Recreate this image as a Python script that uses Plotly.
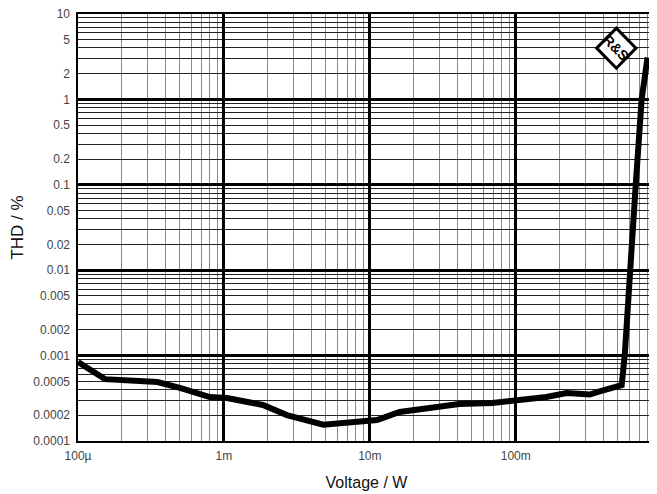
import numpy as np
import plotly.graph_objects as go

# Data
voltage = [1.0e-4, 1.53e-4, 3.5e-4, 5.0e-4, 8.0e-4, 1.05e-3, 1.85e-3, 2.7e-3, 4.8e-3, 6.9e-3,
           1.0e-2, 1.12e-2, 1.6e-2, 2.1e-2, 3.0e-2, 4.1e-2, 6.9e-2, 0.119, 0.162, 0.223,
           0.321, 0.376, 0.515, 0.532, 0.558, 0.604, 0.664, 0.729, 0.80]
thd = [0.00084, 0.00053, 0.00049, 0.00042, 0.000327, 0.000318, 0.000264, 0.000201, 0.000155, 0.000166,
       0.000176, 0.000176, 0.000219, 0.000231, 0.00025, 0.000271, 0.000278, 0.000302, 0.000327, 0.000365,
       0.00035, 0.00038, 0.00043, 0.00045, 0.001, 0.01, 0.1, 1.0, 3.1]

x_tick_vals = [1e-4, 1e-3, 1e-2, 1e-1]
x_tick_text = ["100µ", "1m", "10m", "100m"]
y_tick_vals = [10, 5, 2, 1, 0.5, 0.2, 0.1, 0.05, 0.02, 0.01, 0.005, 0.002, 0.001, 0.0005, 0.0002, 0.0001]
y_tick_text = ["10", "5", "2", "1", "0.5", "0.2", "0.1", "0.05", "0.02", "0.01", "0.005", "0.002",
               "0.001", "0.0005", "0.0002", "0.0001"]
y_decades = [1e-4, 1e-3, 1e-2, 1e-1, 1, 10]

x_minor = [k * 10.0 ** d for d in range(-4, 0) for k in range(2, 10)]
y_minor = [k * 10.0 ** d for d in range(-4, 1) for k in range(2, 10)]

FONT = "Liberation Sans"

fig = go.Figure()
# invisible trace so the grid axis (y) is drawn
fig.add_trace(go.Scatter(x=voltage, y=thd, xaxis="x", yaxis="y", mode="lines",
                         line=dict(color="rgba(0,0,0,0)", width=1), showlegend=False, hoverinfo="skip"))
fig.add_trace(go.Scatter(x=voltage, y=thd, xaxis="x", yaxis="y2", mode="lines",
                         line=dict(color="black", width=6), showlegend=False, hoverinfo="skip"))

fig.update_layout(
    width=657, height=494,
    margin=dict(l=70, r=10, t=6, b=61),
    paper_bgcolor="white", plot_bgcolor="white",
    font=dict(family=FONT, size=12, color="#222"),
    xaxis=dict(type="log", range=[-4, np.log10(0.9)], tickvals=x_tick_vals, ticktext=x_tick_text,
               showgrid=True, gridcolor="black", gridwidth=3, zeroline=False, automargin=False,
               showline=True, linecolor="black", linewidth=2, mirror=True, ticks="",
               ticklabelstandoff=3, ticklabeloverflow="allow",
               minor=dict(tickvals=x_minor, showgrid=True, gridcolor="#8a8a8a", gridwidth=1, ticks=""),
               title=dict(text="Voltage / W", font=dict(size=16, color="#111"), standoff=14),
               tickfont=dict(size=12, color="#444")),
    yaxis=dict(type="log", range=[-4, 1], tickvals=y_decades, showticklabels=False, automargin=False,
               showgrid=True, gridcolor="black", gridwidth=3, zeroline=False,
               showline=True, linecolor="black", linewidth=2, mirror=True, ticks="",
               minor=dict(tickvals=y_minor, showgrid=True, gridcolor="#222", gridwidth=1, ticks="")),
    yaxis2=dict(type="log", range=[-4, 1], overlaying="y", side="left", tickvals=y_tick_vals,
                ticktext=y_tick_text, showgrid=False, zeroline=False, ticks="", automargin=False,
                ticklabelstandoff=7, ticklabeloverflow="allow",
                tickfont=dict(size=12, color="#444"),
                title=dict(text="THD / %", font=dict(size=17, color="#111"), standoff=7)),
)

# R&S logo (diamond)
cx, cy, hx, hy = 0.933, 0.920, 0.034, 0.047
fig.add_shape(type="path", xref="paper", yref="paper",
              path=f"M {cx-hx},{cy} L {cx},{cy+hy} L {cx+hx},{cy} L {cx},{cy-hy} Z",
              fillcolor="white", line=dict(color="black", width=3), layer="above")
fig.add_annotation(x=cx, y=cy, xref="paper", yref="paper", text="<b>R&S</b>", showarrow=False,
                   xanchor="center", yanchor="middle",
                   textangle=45, font=dict(family=FONT, size=14, color="black"))

fig.write_html("out.html")
